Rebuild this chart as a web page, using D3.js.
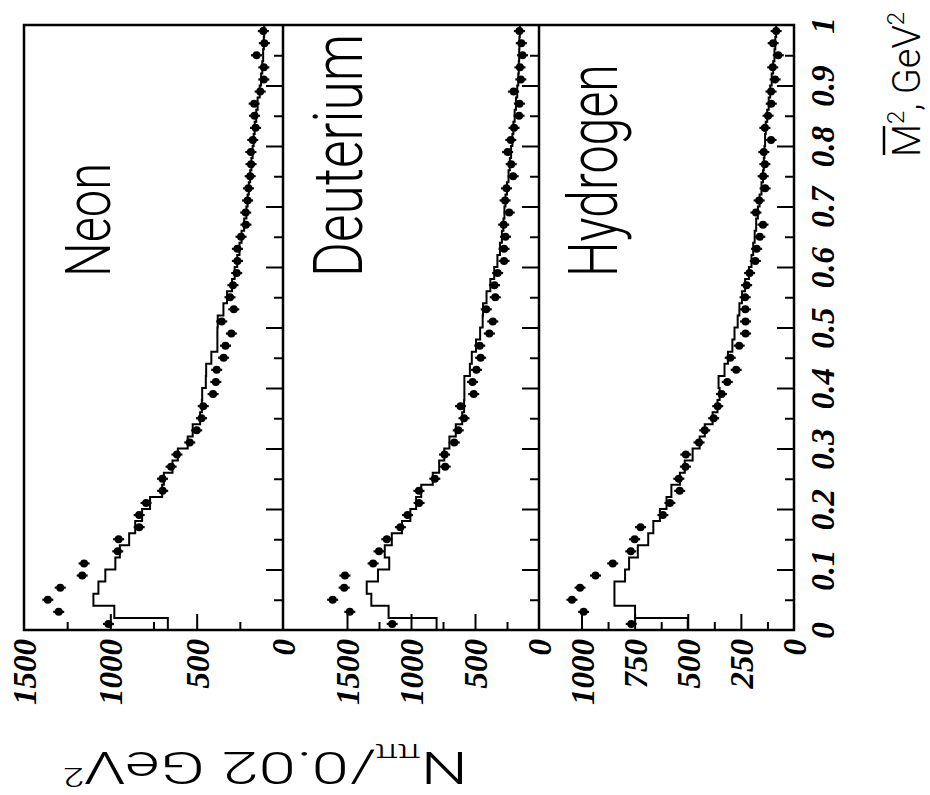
<!DOCTYPE html>
<html><head><meta charset="utf-8">
<script src="https://cdn.jsdelivr.net/npm/d3@7"></script>
<style>body{margin:0;background:#fff}</style>
</head><body>
<svg id="c" width="930" height="795"></svg>
<script>
// ---- data ----
const panelNames = ["Neon", "Deuterium", "Hydrogen"];
const massCenters = [0.01,0.03,0.05,0.07,0.09,0.11,0.13,0.15,0.17,0.19,0.21,0.23,0.25,0.27,0.29,0.31,0.33,0.35,0.37,0.39,0.41,0.43,0.45,0.47,0.49,0.51,0.53,0.55,0.57,0.59,0.61,0.63,0.65,0.67,0.69,0.71,0.73,0.75,0.77,0.79,0.81,0.83,0.85,0.87,0.89,0.91,0.93,0.95,0.97,0.99];
const binHalfWidth = 0.01;
const massMajorTicks = [0.1,0.2,0.3,0.4,0.5,0.6,0.7,0.8,0.9];
const massMinorTicks = [0.05,0.15,0.25,0.35,0.45,0.55,0.65,0.75,0.85,0.95];
const massTickValues = [0,0.1,0.2,0.3,0.4,0.5,0.6,0.7,0.8,0.9,1];
const massTickLabels = ["0","0.1","0.2","0.3","0.4","0.5","0.6","0.7","0.8","0.9","1"];

const neonPoints = [1011,1299,1362,1290,1163,1152,957,952,833,833,793,697,698,648,614,540,500,472,462,405,389,384,344,333,299,355,285,307,290,268,264,264,243,215,216,205,200,190,185,186,175,159,165,167,132,111,111,153,108,114];
const neonHist   = [667,977,1098,1069,1029,971,945,891,856,816,770,700,690,640,609,552,523,480,470,468,447,445,415,380,380,378,345,324,295,280,265,252,240,225,212,205,198,190,183,176,170,164,155,147,135,127,120,115,111,109];
const deutPoints = [1147,1478,1612,1522,1516,1296,1250,1189,1083,1027,937,938,814,733,738,662,631,586,613,510,519,489,456,463,388,361,412,342,348,323,273,273,262,276,233,265,254,202,217,245,220,195,156,153,198,142,149,129,138,153];
const deutHist   = [800,1175,1310,1346,1258,1170,1205,1150,1070,1005,960,920,830,780,740,700,650,600,585,583,583,540,525,492,460,440,437,410,380,350,325,305,290,278,270,262,250,238,228,218,208,200,190,180,170,162,158,155,153,150];
const hydPoints  = [766,990,1045,1007,934,853,768,750,722,617,584,538,542,511,509,447,420,378,359,341,314,272,300,258,228,228,229,230,223,209,182,176,161,146,179,164,136,145,137,142,108,137,122,107,108,89,100,74,98,84];
const hydHist    = [500,748,845,845,795,776,735,686,662,631,600,577,537,514,477,444,420,383,360,350,355,327,311,290,280,265,257,245,230,212,200,192,185,178,170,162,153,146,142,139,136,133,126,119,112,105,98,92,88,84];

const nDomainMax = [1500, 2000, 1200];
const nLabelTicks = [[0,500,1000,1500],[0,500,1000,1500],[0,250,500,750,1000]];
const nMajorTicks = [[500,1000],[500,1000,1500],[250,500,750,1000]];
const nMinorTicks = [[250,750,1250],[250,750,1250],[125,375,625,875]];

const pointsBy = [neonPoints, deutPoints, hydPoints];
const histBy = [neonHist, deutHist, hydHist];

// ---- layout ----
const svg = d3.select("#c");
const yTop = 25, yBot = 630;
const edges = [24, 283, 539, 794];
const yM = d3.scaleLinear().domain([0, 1]).range([yBot, yTop]);
const labelFont = "'Liberation Serif','Times New Roman',serif";
const sansFont = "Roboto,'DejaVu Sans',Arial,sans-serif";

panelNames.forEach((name, i) => {
  const left = edges[i], right = edges[i + 1];
  const xN = d3.scaleLinear().domain([0, nDomainMax[i]]).range([right, left]);
  const g = svg.append("g");

  const styleAxis = sel => { sel.select(".domain").remove(); sel.selectAll("line").attr("stroke", "#000").attr("stroke-width", 2); };
  // N ticks (bottom edge, pointing inward)
  g.append("g").attr("transform", `translate(0,${yBot})`)
    .call(d3.axisTop(xN).tickValues(nMajorTicks[i]).tickSize(16).tickFormat(""))
    .call(styleAxis);
  g.append("g").attr("transform", `translate(0,${yBot})`)
    .call(d3.axisTop(xN).tickValues(nMinorTicks[i]).tickSize(8).tickFormat(""))
    .call(styleAxis);
  // N labels
  const nl = g.append("g").attr("transform", `translate(0,${yBot})`)
    .call(d3.axisBottom(xN).tickValues(nLabelTicks[i]).tickSize(0).tickFormat(d3.format("d")));
  nl.select(".domain").remove();
  nl.attr("font-family", labelFont).attr("font-size", 33);
  nl.selectAll("text").attr("fill", "#000").attr("font-weight", "bold").attr("font-style", "italic")
    .attr("transform", "rotate(-90)").attr("text-anchor", "end")
    .attr("x", -9).attr("y", 0).attr("dy", "0.35em");

  // mass ticks (right edge of panel, pointing inward)
  g.append("g").attr("transform", `translate(${right},0)`)
    .call(d3.axisLeft(yM).tickValues(massMajorTicks).tickSize(17).tickFormat(""))
    .call(styleAxis);
  g.append("g").attr("transform", `translate(${right},0)`)
    .call(d3.axisLeft(yM).tickValues(massMinorTicks).tickSize(9).tickFormat(""))
    .call(styleAxis);

  // histogram
  const hist = histBy[i];
  const stepPts = massCenters.map((m, k) => [m - binHalfWidth, hist[k]]);
  stepPts.push([massCenters[massCenters.length - 1] + binHalfWidth, hist[hist.length - 1]]);
  const line = d3.line().x(d => xN(d[1])).y(d => yM(d[0])).curve(d3.curveStepBefore);
  g.append("path").attr("d", line(stepPts)).attr("fill", "none").attr("stroke", "#000").attr("stroke-width", 2);

  // points
  const pts = pointsBy[i];
  const pg = g.append("g");
  pg.selectAll("line").data(pts).join("line")
    .attr("x1", d => xN(d) - 5.5).attr("x2", d => xN(d) + 5.5)
    .attr("y1", (d, k) => yM(massCenters[k])).attr("y2", (d, k) => yM(massCenters[k]))
    .attr("stroke", "#000").attr("stroke-width", 2.2);
  pg.selectAll("circle").data(pts).join("circle")
    .attr("cx", d => xN(d)).attr("cy", (d, k) => yM(massCenters[k])).attr("r", 4).attr("fill", "#000");

  // panel label: size so its natural length fits, then stretch glyph height
  const lx = [110, 362, 617][i];
  const len = [114, 243, 213][i];
  const cap = [45, 49, 49][i];
  const t = g.append("text").attr("font-family", sansFont).attr("font-weight", 300)
    .attr("font-size", 100).text(name);
  const L = t.node().getComputedTextLength();
  const fs = 100 * len / L;
  const sy = cap / (0.711 * fs);
  t.attr("font-size", fs).attr("transform", `translate(${lx},277) rotate(-90) scale(1,${sy})`);
});

// frame
const frame = svg.append("g").attr("fill", "none").attr("stroke", "#000").attr("stroke-width", 2.5);
frame.append("rect").attr("x", edges[0]).attr("y", yTop).attr("width", edges[3] - edges[0]).attr("height", yBot - yTop);
[edges[1], edges[2]].forEach(x => frame.append("line").attr("x1", x).attr("x2", x).attr("y1", yTop).attr("y2", yBot));

// mass tick labels (right side)
const ml = svg.append("g").attr("transform", `translate(${edges[3]},0)`)
  .call(d3.axisRight(yM).tickValues(massTickValues).tickSize(0).tickFormat((d, k) => massTickLabels[k]));
ml.select(".domain").remove();
ml.attr("font-family", labelFont).attr("font-size", 33);
ml.selectAll("text").attr("fill", "#000").attr("font-weight", "bold").attr("font-style", "italic")
  .attr("transform", "rotate(-90)").attr("text-anchor", "middle")
  .attr("x", 0).attr("y", 40).attr("dy", 0);

// mass axis title
const tg = svg.append("g").attr("transform", "translate(920,157) rotate(-90)");
const tt = tg.append("text").attr("font-family", sansFont).attr("font-weight", 300).attr("font-size", 38);
tt.append("tspan").text("M");
tt.append("tspan").attr("font-size", 24).attr("dy", -16).text("2");
tt.append("tspan").attr("dy", 16).text(", GeV");
tt.append("tspan").attr("font-size", 24).attr("dy", -16).text("2");
const ext = tt.node().getExtentOfChar(0);
tg.append("line").attr("x1", ext.x + 2).attr("x2", ext.x + ext.width - 2)
  .attr("y1", -36).attr("y2", -36).attr("stroke", "#000").attr("stroke-width", 2.5);

// N axis title (upside down), stretched along its length to fit
const yg = svg.append("g");
const yt = yg.append("text")
  .attr("font-family", sansFont).attr("font-weight", 300).attr("font-size", 44);
yt.append("tspan").text("N");
yt.append("tspan").attr("font-size", 25).attr("dy", 8).text("ππ");
yt.append("tspan").attr("dy", -8).text("/0.02 GeV");
yt.append("tspan").attr("font-size", 25).attr("dy", -16).text("2");
const bb = yt.node().getBBox();
const sx = 405 / bb.width;
yt.attr("x", -bb.x);
yg.attr("transform", `translate(468,752) rotate(180) scale(${sx},1)`);
</script>
</body></html>
